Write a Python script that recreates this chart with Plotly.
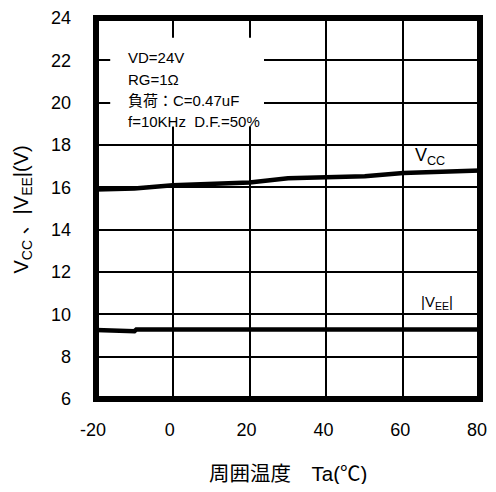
import plotly.graph_objects as go

# Data
temp_vcc = [-20, -10, 0, 20, 30, 40, 50, 60, 80]
vcc = [15.9, 15.95, 16.1, 16.23, 16.43, 16.46, 16.52, 16.68, 16.79]
temp_vee = [-20, -10, -9.5, 0, 20, 40, 60, 80]
vee = [9.26, 9.2, 9.28, 9.28, 9.28, 9.28, 9.28, 9.28]
x_ticks = [-20, 0, 20, 40, 60, 80]
y_ticks = [6, 8, 10, 12, 14, 16, 18, 20, 22, 24]
cond_lines = ["VD=24V", "RG=1Ω", "負荷：C=0.47uF", "f=10KHz  D.F.=50%"]
cond_y = [22.13, 21.11, 20.1, 19.12]

FONT = "Liberation Sans, Arial, Noto Sans CJK JP, sans-serif"

# page body has an 8px margin; figure sized so the page stays within 496x492
W, H = 480, 476
L, R, T, B = 87.5, 0.5, 5, 85
PW, PH = W - L - R, H - T - B

fig = go.Figure()
fig.add_trace(go.Scatter(x=temp_vcc, y=vcc, mode="lines",
                         line=dict(color="black", width=4.5), showlegend=False))
fig.add_trace(go.Scatter(x=temp_vee, y=vee, mode="lines",
                         line=dict(color="black", width=4.5), showlegend=False))

# white box behind conditions text (covers grid)
fig.add_shape(type="rect", xref="x", yref="y", x0=-16.3, x1=23.75, y0=18.87, y1=23.07,
              fillcolor="white", line=dict(width=0), layer="between")
# frame
fig.add_shape(type="rect", xref="paper", yref="paper", x0=0, x1=1, y0=0, y1=1,
              line=dict(color="black", width=6), layer="above")

for txt, yy in zip(cond_lines, cond_y):
    fig.add_annotation(x=-12.3, y=yy, text=txt, showarrow=False, xanchor="left",
                       yanchor="middle", font=dict(family=FONT, size=15, color="black"))

fig.add_annotation(x=66.9, y=17.47, text="V<sub>CC</sub>", showarrow=False,
                   font=dict(family=FONT, size=18, color="black"))
fig.add_annotation(x=68.9, y=10.57, text="|V<sub>EE</sub>|", showarrow=False,
                   font=dict(family=FONT, size=15, color="black"))

# axis titles (positions in px of the reference, minus the 8px page offset)
fig.add_annotation(xref="paper", yref="paper", x=(20 - 8 - L) / PW, y=(T + PH - (207 - 8)) / PH,
                   text="V<sub>CC</sub> 、|V<sub>EE</sub>|(V)", textangle=-90, showarrow=False,
                   xanchor="center", yanchor="middle",
                   font=dict(family=FONT, size=20, color="black"))
fig.add_annotation(xref="paper", yref="paper", x=(291 - 8 - L) / PW, y=(T + PH - (474 - 8)) / PH,
                   text="周囲温度　Ta(℃)", showarrow=False, xanchor="center", yanchor="middle",
                   font=dict(family=FONT, size=20.5, color="black"))

fig.update_layout(
    width=W, height=H,
    margin=dict(l=L, r=R, t=T, b=B, pad=0),
    paper_bgcolor="white", plot_bgcolor="white",
    font=dict(family=FONT, size=18, color="black"),
    xaxis=dict(range=[-20, 80], tickvals=x_ticks, ticktext=[str(v) for v in x_ticks],
               showgrid=True, gridcolor="black", gridwidth=1.5, zeroline=False,
               showline=False, ticks="", ticklabelstandoff=18, ticklabelshift=-3,
               ticklabeloverflow="allow",
               tickfont=dict(family=FONT, size=18, color="black")),
    yaxis=dict(range=[6, 24], tickvals=y_ticks, ticktext=[str(v) for v in y_ticks],
               showgrid=True, gridcolor="black", gridwidth=1.5, zeroline=False,
               showline=False, ticks="", ticklabelstandoff=24, ticklabeloverflow="allow",
               tickfont=dict(family=FONT, size=18, color="black")),
)

fig.write_html("out.html")
